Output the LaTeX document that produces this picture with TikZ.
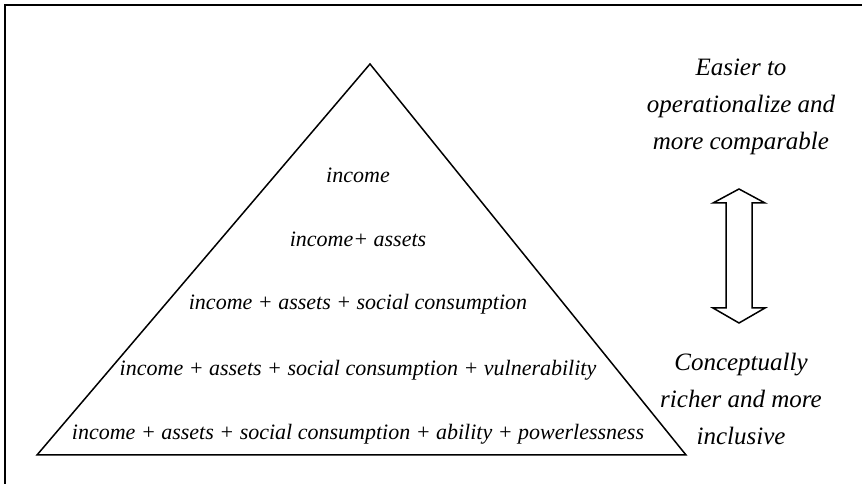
\documentclass[tikz,border=0pt]{standalone}
\usepackage{fontspec}
\setmainfont{Liberation Serif}
\usepackage{tikz}

\begin{document}
\begin{tikzpicture}[x=1pt, y=1pt,
		lvl/.style={anchor=base, inner sep=0pt, font=\fontsize{22}{26}\selectfont\itshape},
		side/.style={anchor=base, inner sep=0pt, align=center, font=\fontsize{25}{37}\selectfont\itshape}]
			\useasboundingbox (0,0) rectangle (862,484);
			
			%% frame
			\draw [line width=2.5pt] (5,0) -- (5,479) -- (862,479);
			
			%% pyramid
			\coordinate (top) at (370,420);
			\coordinate (bl) at (37,29);
			\coordinate (br) at (686,29);
			\draw [line width=1.5pt, line join=miter] (top) -- (bl) -- (br) -- cycle;
			
			\node[lvl] (lvl1) at (358,301) {income};
			\node[lvl] (lvl2) at (358,237) {income+ assets};
			\node[lvl] (lvl3) at (358,174) {income + assets + social consumption};
			\node[lvl] (lvl4) at (358,108) {income + assets + social consumption + vulnerability};
			\node[lvl] (lvl5) at (358,44) {income + assets + social consumption + ability + powerlessness};
			
			%% side texts (base = last line)
			\node[side] (easier) at (741,334) {Easier to\\operationalize and\\more comparable};
			\node[side] (richer) at (741,39) {Conceptually\\richer and more\\inclusive};
			
			%% double arrow
			\coordinate (up) at (739,295);
			\coordinate (dn) at (739,161);
			\draw [line width=1.5pt, fill=white, line join=miter]
				(up) -- ++(26,-14) -- ++(-13,0) -- (752,176) -- ++(13,0) -- (dn)
				-- (713,176) -- ++(13,0) -- (726,281) -- ++(-13,0) -- cycle;
			
		\end{tikzpicture}
\end{document}
